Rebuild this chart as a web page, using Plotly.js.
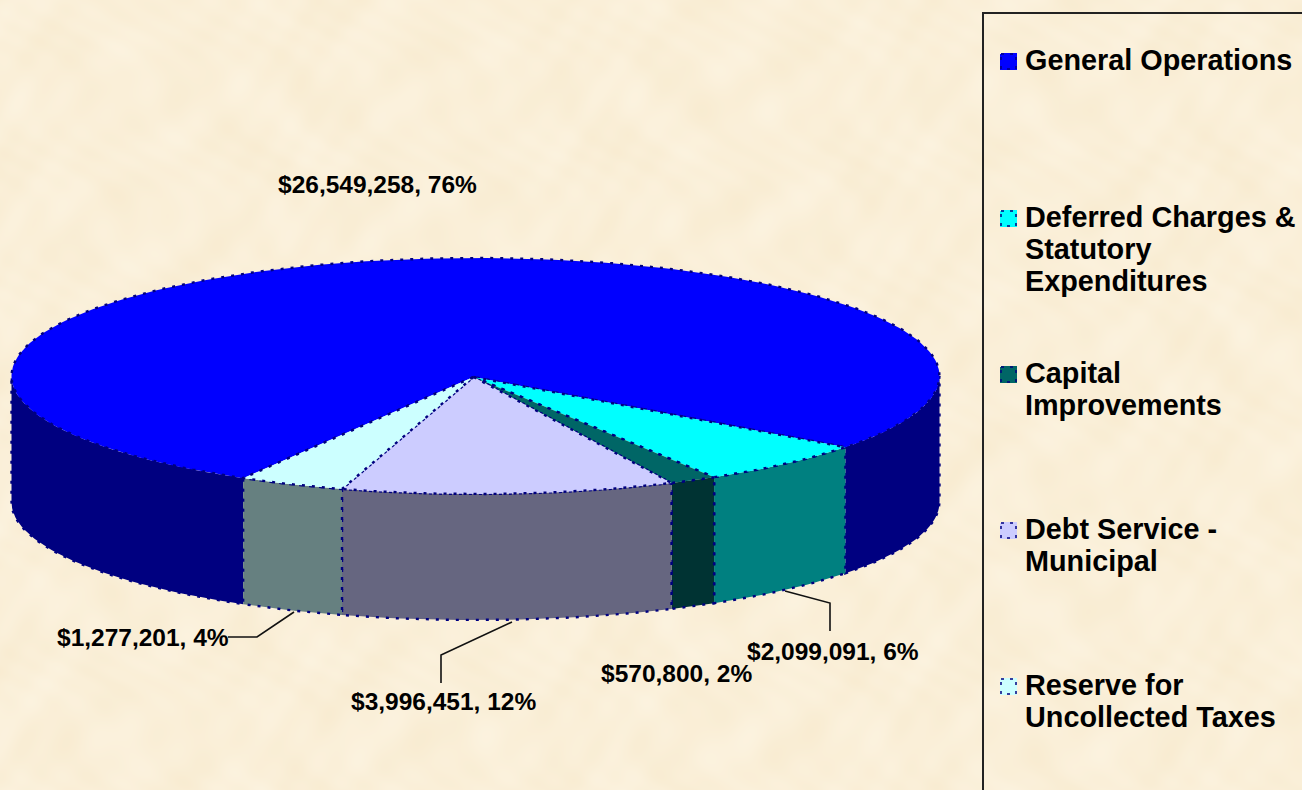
<!DOCTYPE html>
<html><head><meta charset="utf-8">
<script src="https://cdn.plot.ly/plotly-3.0.1.min.js"></script>
<style>html,body{margin:0;padding:0;background:#FAEFD8;overflow:hidden}#c{width:1302px;height:790px}</style>
</head><body><div id="c"></div>
<script>
// ---- data ----
const categories = ["General Operations","Deferred Charges & Statutory Expenditures","Capital Improvements","Debt Service - Municipal","Reserve for Uncollected Taxes"];
const values = [26549258, 2099091, 570800, 3996451, 1277201];
const valueLabels = ["$26,549,258, 76%","$2,099,091, 6%","$570,800, 2%","$3,996,451, 12%","$1,277,201, 4%"];
const legendLines = [["General Operations"],["Deferred Charges &","Statutory","Expenditures"],["Capital","Improvements"],["Debt Service -","Municipal"],["Reserve for","Uncollected Taxes"]];
const topColors  = ["#0000FF","#00FFFF","#006666","#CCCCFF","#CCFFFF"];
const wallColors = ["#000080","#008080","#003333","#666680","#668080"];
const outline = "#000080";
// ---- projection of the pie ----
const CX=475.5, CY=376, RX=464, RY=118, DEPTH=126, START=120.05, HUBX=473.5, HUBY=377;
const X=t=>CX+RX*Math.cos(t*Math.PI/180), Y=t=>CY+RY*Math.sin(t*Math.PI/180);
const total=values.reduce((a,b)=>a+b,0);
let acc=START;
const arcs=values.map(v=>{const a=acc; acc+=v/total*360; return [a,acc];});
function arcPts(a,b){const p=[];const n=Math.max(2,Math.ceil((b-a)/1.5));for(let i=0;i<=n;i++)p.push(a+(b-a)*i/n);return p;}
const dotted={color:outline,width:2.4,dash:"3px 7px"};
const traces=[];
function poly(xs,ys,fill,line){traces.push({type:"scatter",mode:"lines",x:xs,y:ys,fill:"toself",fillcolor:fill,line:line,hoverinfo:"skip",showlegend:false});}
// walls: only the front half (0..180 and 360..540) is visible
arcs.forEach(([a,b],i)=>{
  [[0,180],[360,540]].forEach(([lo,hi])=>{
    const s=Math.max(a,lo), e=Math.min(b,hi);
    if(e<=s) return;
    const ts=arcPts(s,e);
    const xs=ts.map(X).concat(ts.slice().reverse().map(X)); 
    const ys=ts.map(t=>Y(t)).concat(ts.slice().reverse().map(t=>Y(t)+DEPTH));
    xs.push(xs[0]); ys.push(ys[0]);
    poly(xs,ys,wallColors[i],dotted);
  });
});
// top faces
arcs.forEach(([a,b],i)=>{
  const ts=arcPts(a,b);
  const xs=[HUBX].concat(ts.map(X),[HUBX]), ys=[HUBY].concat(ts.map(Y),[HUBY]);
  poly(xs,ys,topColors[i],dotted);
});
// leader lines
const leaderX=[[785,830,830],[512,441,441],[294,257,228]];
const leaderY=[[591,603,631],[622,655,683],[612,637,637]];
leaderX.forEach((lx,i)=>traces.push({type:"scatter",mode:"lines",x:lx,y:leaderY[i],line:{color:"#111",width:1.6},hoverinfo:"skip",showlegend:false}));
// value labels
const labelX=[377,832.5,676.5,443.5,142.5], labelY=[184.5,651.5,673.5,701.5,637.5];
const F="Liberation Sans, Arial, sans-serif";
const ann=valueLabels.map((t,i)=>({xref:"x",yref:"y",x:labelX[i],y:labelY[i],text:"<b>"+t+"</b>",showarrow:false,xanchor:"center",yanchor:"middle",font:{family:F,size:24.5,color:"#000"}}));
// legend (swatches + text)
const legendTop=[60,217,373,529,685], lineStep=32, swX=1001, swS=15, textX=1025;
legendLines.forEach((lines,i)=>{
  lines.forEach((t,j)=>ann.push({xref:"x",yref:"y",x:textX,y:legendTop[i]+j*lineStep,text:"<b>"+t+"</b>",showarrow:false,xanchor:"left",yanchor:"middle",font:{family:F,size:28.8,color:"#000"},borderpad:0,borderwidth:0}));
  const y0=legendTop[i]-6, y1=y0+swS;
  poly([swX,swX+swS,swX+swS,swX,swX],[y0,y0,y1,y1,y0],topColors[i],{color:topColors[i],width:2});
  traces[traces.length-1].name=categories[i];
  poly([swX,swX+swS,swX+swS,swX,swX],[y0,y0,y1,y1,y0],"rgba(0,0,0,0)",{color:outline,width:1.5,dash:"3px 6px"});
});
// parchment texture (deterministic smooth mottling)
function parchment(){
  const w=1302,h=790,c=document.createElement("canvas");c.width=w;c.height=h;const g=c.getContext("2d");
  g.fillStyle="#FAEFD8";g.fillRect(0,0,w,h);
  const im=g.getImageData(0,0,w,h),d=im.data;
  for(let y=0;y<h;y++)for(let x=0;x<w;x++){
    const n=Math.sin(x*.051+Math.sin(y*.027)*2)+Math.sin(y*.063+Math.sin(x*.033)*2.3)+.7*Math.sin((x+y)*.111+Math.sin(x*.021)*3)+.6*Math.sin((x-y)*.143+Math.cos(y*.049)*3);
    const k=(y*w+x)*4;d[k]+=n*.5;d[k+1]+=n*1;d[k+2]+=n*2;
  }
  g.putImageData(im,0,0);return c.toDataURL("image/png");
}
const layout={
  width:1302,height:790,margin:{l:0,r:0,t:0,b:0},showlegend:false,
  paper_bgcolor:"#FAEFD8",plot_bgcolor:"rgba(0,0,0,0)",
  xaxis:{range:[0,1302],visible:false,fixedrange:true},
  yaxis:{range:[790,0],visible:false,fixedrange:true},
  images:[{source:parchment(),xref:"paper",yref:"paper",x:0,y:1,sizex:1,sizey:1,sizing:"stretch",xanchor:"left",yanchor:"top",layer:"below"}],
  shapes:[{type:"rect",xref:"x",yref:"y",x0:983,y0:13,x1:1340,y1:840,line:{color:"#222",width:2},fillcolor:"rgba(0,0,0,0)",layer:"below"}],
  annotations:ann
};
Plotly.newPlot("c",traces,layout,{staticPlot:true,displayModeBar:false});
</script></body></html>
